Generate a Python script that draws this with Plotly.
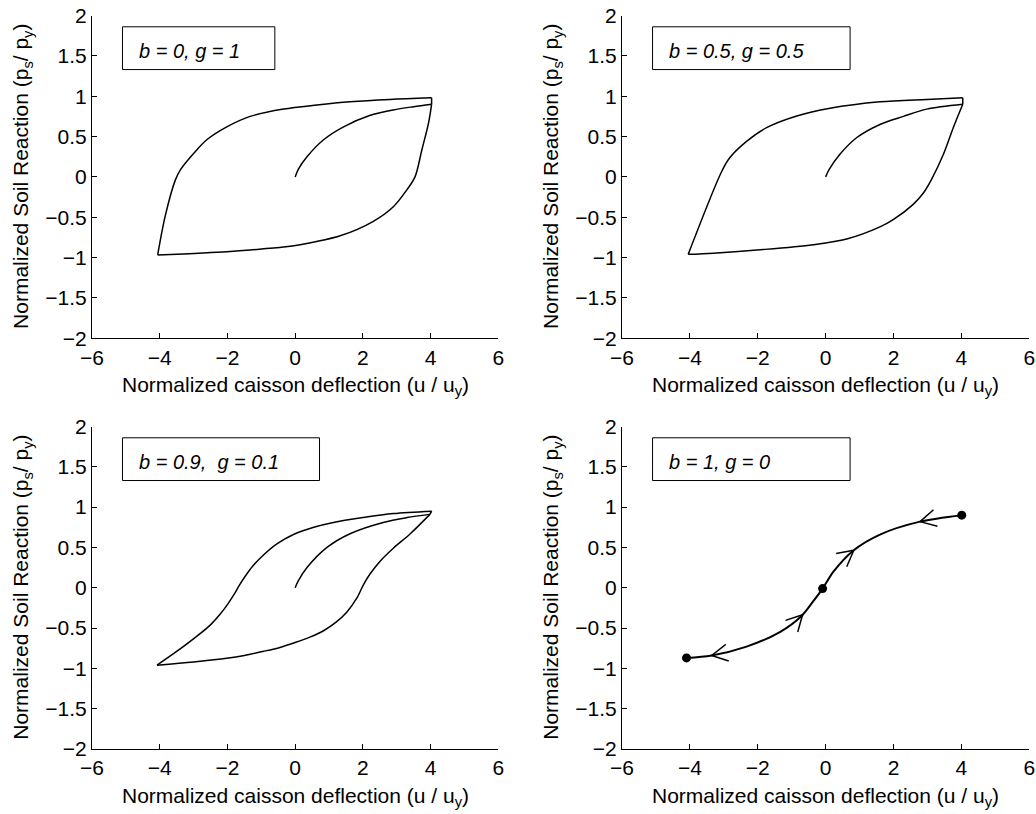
import numpy as np
import plotly.graph_objects as go

# ---------------- data ----------------
# panel 1: b = 0, g = 1
tl_init_x = [0, 0.1, 0.35, 0.84, 1.43, 2.2, 2.9, 3.5, 4.03]
tl_init_y = [0, 0.1, 0.25, 0.46, 0.62, 0.76, 0.83, 0.87, 0.9]
tl_unload_x = [4.03, 3.94, 3.74, 3.54, 3.3, 2.9, 2.31, 1.33, 0.15, -0.34, -1.33, -2.31, -3.3, -4.06]
tl_unload_y = [0.9, 0.67, 0.33, 0.0, -0.16, -0.37, -0.55, -0.73, -0.84, -0.87, -0.905, -0.935, -0.955, -0.967]
tl_reload_x = [-4.06, -3.84, -3.54, -3.39, -3.0, -2.61, -2.02, -1.33, -0.34, 0.64, 1.62, 2.8, 4.03, 4.03]
tl_reload_y = [-0.967, -0.49, -0.04, 0.087, 0.29, 0.46, 0.62, 0.75, 0.84, 0.89, 0.93, 0.96, 0.98, 0.9]

# panel 2: b = 0.5, g = 0.5
tr_init_x = [0, 0.1, 0.42, 0.91, 1.6, 2.29, 2.98, 4.04]
tr_init_y = [0, 0.09, 0.28, 0.485, 0.65, 0.75, 0.84, 0.9]
tr_unload_x = [4.04, 3.76, 3.47, 3.12, 2.88, 2.58, 1.99, 1.6, 0.62, -0.37, -1.84, -3.31, -4.05]
tr_unload_y = [0.9, 0.61, 0.28, -0.03, -0.2, -0.34, -0.53, -0.62, -0.77, -0.84, -0.9, -0.945, -0.96]
tr_reload_x = [-4.05, -3.06, -2.82, -2.33, -1.74, -0.85, 0.13, 1.6, 2.98, 4.04, 4.04]
tr_reload_y = [-0.96, 0.07, 0.24, 0.44, 0.61, 0.755, 0.85, 0.93, 0.96, 0.98, 0.9]

# panel 3: b = 0.9, g = 0.1
bl_init_x = [0, 0.1, 0.35, 0.94, 1.62, 2.6, 3.3, 3.98]
bl_init_y = [0, 0.09, 0.25, 0.5, 0.67, 0.81, 0.87, 0.91]
bl_unload_x = [3.98, 3.4, 2.9, 2.51, 2.21, 2.02, 1.82, 1.53, 1.2, 0.85, 0.45, 0, -0.45, -0.95,
               -1.5, -2.02, -3.0, -4.08]
bl_unload_y = [0.91, 0.67, 0.49, 0.33, 0.17, 0.04, -0.13, -0.3, -0.43, -0.53, -0.61, -0.68, -0.74,
               -0.79, -0.84, -0.875, -0.92, -0.96]
bl_reload_x = [-4.08, -3.5, -2.9, -2.5, -2.2, -1.97, -1.8, -1.65, -1.48, -1.25, -0.95, -0.55, -0.05,
               0.55, 1.13, 2.0, 2.9, 4.03, 3.98]
bl_reload_y = [-0.96, -0.79, -0.6, -0.46, -0.32, -0.19, -0.08, 0.03, 0.14, 0.27, 0.4, 0.54, 0.66,
               0.75, 0.81, 0.87, 0.92, 0.95, 0.91]

# panel 4: b = 1, g = 0
br_x = [-4.1, -3.36, -2.33, -1.35, -0.71, -0.37, -0.09, 0.23, 0.81, 1.6, 2.78, 4.01]
br_y = [-0.87, -0.84, -0.73, -0.55, -0.35, -0.17, -0.01, 0.2, 0.46, 0.66, 0.82, 0.9]
br_dot_x = [-4.1, -0.09, 4.01]
br_dot_y = [-0.87, -0.01, 0.9]
arrow_x = [0.83, 2.78, -3.36, -0.68]
arrow_dir = [1, -1, -1, 1]

panel_labels = ["b = 0, g = 1", "b = 0.5, g = 0.5", "b = 0.9,\u00a0 g = 0.1", "b = 1, g = 0"]
x_ticks = [-6, -4, -2, 0, 2, 4, 6]
x_ticktext = ["\u22126", "\u22124", "\u22122", "0", "2", "4", "6"]
y_ticks = [-2, -1.5, -1, -0.5, 0, 0.5, 1, 1.5, 2]
y_ticktext = ["\u22122", "\u22121.5", "\u22121", "\u22120.5", "0", "0.5", "1", "1.5", "2"]

# ---------------- layout geometry ----------------
W, H = 1036, 814
col_px = [(92.0, 498.3), (622.0, 1029.3)]
row_px = [(15.5, 338.3), (426.5, 749.0)]
FONT = "Liberation Sans, Arial, Helvetica, sans-serif"
XR, YR = [-6, 6], [-2, 2]

fig = go.Figure()

panels = [
    (0, 0, [(tl_init_x, tl_init_y), (tl_unload_x, tl_unload_y)], (tl_reload_x, tl_reload_y)),
    (0, 1, [(tr_init_x, tr_init_y), (tr_unload_x, tr_unload_y)], (tr_reload_x, tr_reload_y)),
    (1, 0, [(bl_init_x, bl_init_y), (bl_unload_x, bl_unload_y)], (bl_reload_x, bl_reload_y)),
    (1, 1, [(br_x, br_y)], None),
]

annotations = []
shapes = []
for k, (r, c, curves, reload) in enumerate(panels):
    n = k + 1
    xa = "x" if n == 1 else f"x{n}"
    ya = "y" if n == 1 else f"y{n}"
    x0p, x1p = col_px[c]
    y0p, y1p = row_px[r]
    common = dict(showline=True, linecolor="black", linewidth=1, mirror=False, ticks="inside",
                  ticklen=5, tickwidth=1, tickcolor="black", showgrid=False, zeroline=False,
                  automargin=False, tickfont=dict(family=FONT, size=21, color="black"),
                  fixedrange=True)
    axx = dict(domain=[x0p / W, x1p / W], range=XR, anchor=ya,
               tickvals=x_ticks, ticktext=x_ticktext, **common)
    axy = dict(domain=[1 - y1p / H, 1 - y0p / H], range=YR, anchor=xa,
               tickvals=y_ticks, ticktext=y_ticktext, **common)
    fig.layout["xaxis" if n == 1 else f"xaxis{n}"] = axx
    fig.layout["yaxis" if n == 1 else f"yaxis{n}"] = axy

    width = 2 if n == 4 else 1.5
    for cx, cy in curves:
        fig.add_trace(go.Scatter(x=cx, y=cy, mode="lines", xaxis=xa, yaxis=ya,
                                 line=dict(color="black", width=width, shape="spline", smoothing=0.9),
                                 hoverinfo="skip", showlegend=False))
    if reload is not None:
        rx, ry = reload
        # smooth reloading branch, then the short straight closing step at the peak
        fig.add_trace(go.Scatter(x=rx[:-1], y=ry[:-1], mode="lines", xaxis=xa, yaxis=ya,
                                 line=dict(color="black", width=width, shape="spline", smoothing=0.9),
                                 hoverinfo="skip", showlegend=False))
        fig.add_trace(go.Scatter(x=rx[-2:], y=ry[-2:], mode="lines", xaxis=xa, yaxis=ya,
                                 line=dict(color="black", width=width),
                                 hoverinfo="skip", showlegend=False))

    # label box
    box_x1 = -0.6 if n == 1 else 0.72
    shapes.append(dict(type="rect", xref=xa, yref=ya, x0=-5.1, x1=box_x1, y0=1.33, y1=1.86,
                       line=dict(color="black", width=1), fillcolor="white", layer="above"))
    annotations.append(dict(xref=xa, yref=ya, x=-4.66, y=1.56, xanchor="left", yanchor="middle",
                            text=f"<i>{panel_labels[k]}</i>", showarrow=False,
                            font=dict(family=FONT, size=20, color="black")))
    # axis titles
    annotations.append(dict(xref="paper", yref="paper", x=(x0p + x1p) / 2 / W, y=1 - (y1p + 48) / H,
                            xanchor="center", yanchor="middle",
                            text="Normalized caisson deflection (u / u<sub>y</sub>)", showarrow=False,
                            font=dict(family=FONT, size=21, color="black")))
    annotations.append(dict(xref="paper", yref="paper", x=(x0p - 70) / W, y=1 - (y0p + y1p) / 2 / H,
                            xanchor="center", yanchor="middle", textangle=-90,
                            text="Normalized Soil Reaction (p<sub>s</sub>/ p<sub>y</sub>)", showarrow=False,
                            font=dict(family=FONT, size=21, color="black")))

# panel 4: dots and open arrowheads along the curve
fig.add_trace(go.Scatter(x=br_dot_x, y=br_dot_y, mode="markers", xaxis="x4", yaxis="y4",
                         marker=dict(color="black", size=9), hoverinfo="skip", showlegend=False))

sx = (col_px[1][1] - col_px[1][0]) / (XR[1] - XR[0])
sy = (row_px[1][1] - row_px[1][0]) / (YR[1] - YR[0])
bx = np.array(br_x, float)
by = np.array(br_y, float)
ax_pts, ay_pts = [], []
leg_len, half = 18.0, np.radians(28)
for tx, d in zip(arrow_x, arrow_dir):
    ty = np.interp(tx, bx, by)
    h = 0.15
    dy = np.interp(tx + h, bx, by) - np.interp(tx - h, bx, by)
    vx, vy = 2 * h * sx * d, dy * sy * d
    nrm = np.hypot(vx, vy)
    vx, vy = vx / nrm, vy / nrm
    bxv, byv = -vx, -vy
    for s in (-1, 1):
        ca, sa = np.cos(s * half), np.sin(s * half)
        lx = bxv * ca - byv * sa
        ly = bxv * sa + byv * ca
        ax_pts += [tx + lx * leg_len / sx, tx, None]
        ay_pts += [ty + ly * leg_len / sy, ty, None]
fig.add_trace(go.Scatter(x=ax_pts, y=ay_pts, mode="lines", xaxis="x4", yaxis="y4",
                         line=dict(color="black", width=1.5), hoverinfo="skip", showlegend=False))

fig.update_layout(template="none", width=W, height=H, margin=dict(l=0, r=0, t=0, b=0, pad=0),
                  paper_bgcolor="white", plot_bgcolor="white", showlegend=False,
                  annotations=annotations, shapes=shapes,
                  font=dict(family=FONT, size=21, color="black"))

fig.write_html("out.html", config={"displayModeBar": False},
               post_script="document.body.style.margin='0';document.body.style.overflow='hidden';")
